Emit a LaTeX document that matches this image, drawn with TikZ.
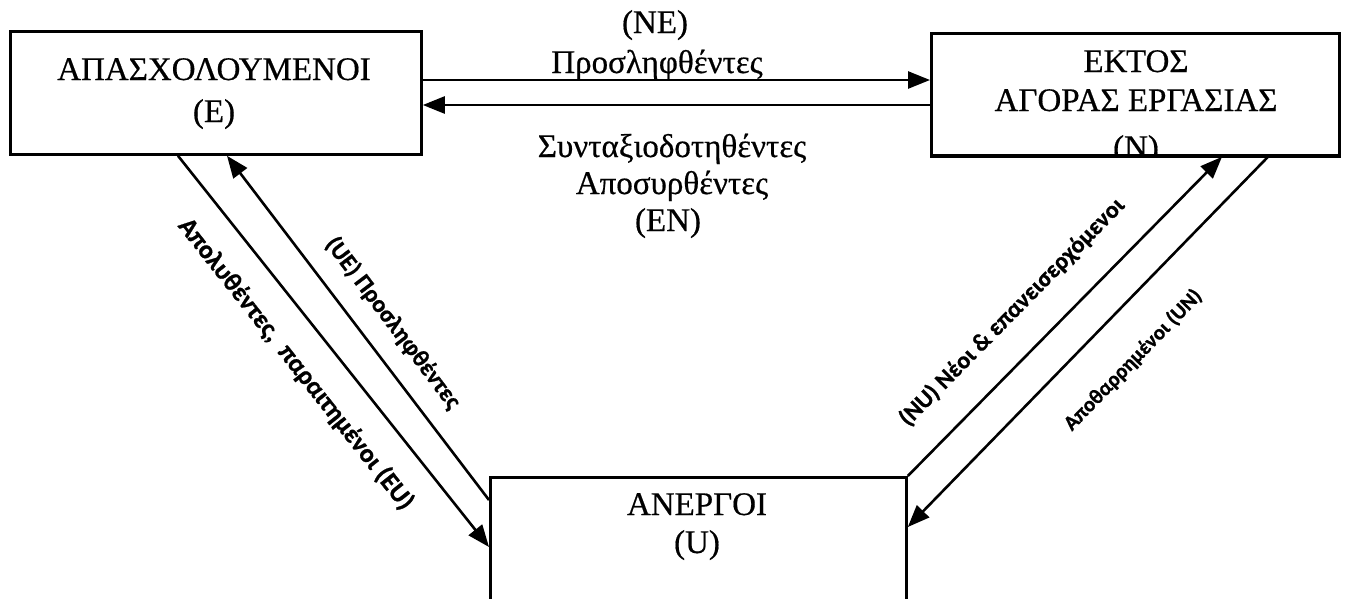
\documentclass[tikz,border=0pt]{standalone}
\usepackage{fontspec}
\setmainfont{Liberation Serif}[FakeBold=0.5]
\newfontfamily\lblfont{Carlito}[FakeBold=0.9]
\usetikzlibrary{arrows.meta,calc}
\begin{document}
\begin{tikzpicture}[x=1pt,y=-1pt,
  box/.style={draw, line width=2.8pt, inner sep=0pt, anchor=north west},
  boxtext/.style={font=\fontsize{33}{39}\selectfont, anchor=base, inner sep=0pt},
  flowtext/.style={font=\fontsize{33}{39}\selectfont, anchor=base, inner sep=0pt},
  difftext/.style={font=\lblfont\bfseries\fontsize{24}{28}\selectfont, inner sep=0pt},
  flow/.style={line width=2.6pt, -{Triangle[length=22pt,width=17pt]}}]
\useasboundingbox (0,0) rectangle (1346,598);

% boxes
\node[box, minimum width=411pt, minimum height=123pt] (E) at (9,30) {};
\node[box, minimum width=408pt, minimum height=122pt] (N) at (930,32) {};
\node[box, minimum width=416pt, minimum height=127pt] (U) at (489,476) {};

% box texts
\node[boxtext] (e1) at (214,80) {ΑΠΑΣΧΟΛΟΥΜΕΝΟΙ};
\node[boxtext] (e2) at (214,122) {(E)};
\node[boxtext] (n1) at (1136,72) {ΕΚΤΟΣ};
\node[boxtext] (n2) at (1136,111) {ΑΓΟΡΑΣ ΕΡΓΑΣΙΑΣ};
\node[boxtext] (n3) at (1136,158) {(N)};
\node[boxtext] (u1) at (697,515) {ΑΝΕΡΓΟΙ};
\node[boxtext] (u2) at (697,553) {(U)};
\fill[white] ($(N.south west)+(10,1.4)$) rectangle ($(N.south east)+(-10,14)$);
\draw[line width=2.8pt] (N.south west) -- (N.south east);

% horizontal flows
\draw[flow] ($(E.north east)+(0,50)$) -- ($(N.north west)+(0,48)$);
\draw[flow] ($(N.north west)+(0,73)$) -- ($(E.north east)+(0,75)$);
\node[flowtext] (ne1) at (655,33) {(NE)};
\node[flowtext] (ne2) at (657,73) {Προσληφθέντες};
\node[flowtext] (en1) at (672,157) {Συνταξιοδοτηθέντες};
\node[flowtext] (en2) at (672,194) {Αποσυρθέντες};
\node[flowtext] (en3) at (668,231) {(EN)};

% diagonal flows
\draw[flow] ($(E.south west)+(169,0)$) -- ($(U.north west)+(0,71)$);
\draw[flow] ($(U.north west)+(0,24)$) -- ($(E.south west)+(218,0)$);
\draw[flow] (U.north east) -- ($(N.south west)+(292,0)$);
\draw[flow] ($(N.south west)+(338,0)$) -- ($(U.north east)+(0,51)$);

\node[difftext, rotate=-51.7, font=\lblfont\bfseries\fontsize{26}{30}\selectfont] (eu) at (296,364) {Απολυθέντες,\ \ παραιτημένοι (EU)};
\node[difftext, rotate=-53] (ue) at (393,323) {(UE) Προσληφθέντες};
\node[difftext, rotate=45.4] (nu) at (1012,312) {(NU) Νέοι \& επανεισερχόμενοι};
\node[difftext, rotate=45.8, font=\lblfont\bfseries\fontsize{21}{25}\selectfont] (un) at (1133,360) {Αποθαρρημένοι (UN)};
\end{tikzpicture}
\end{document}
